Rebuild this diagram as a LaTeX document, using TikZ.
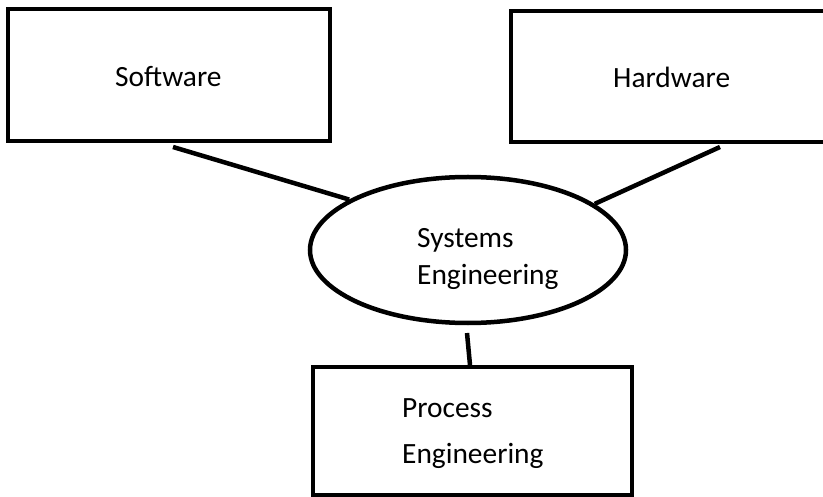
\documentclass[tikz,border=0pt]{standalone}
\usepackage{fontspec}
\setmainfont{Carlito}
\usetikzlibrary{shapes.geometric}
\begin{document}
\begin{tikzpicture}[x=1bp,y=-1bp,
  boxnode/.style={draw,line width=4.5bp,rectangle,inner sep=0pt},
  ellnode/.style={draw,line width=4.5bp,ellipse,inner sep=0pt},
  lbl/.style={anchor=base west,inner sep=0pt,font=\fontsize{29.5}{35}\selectfont},
  conn/.style={line width=4.5bp}]
\useasboundingbox (0,0) rectangle (823,497);
\clip (0,0) rectangle (823,497);
\node[boxnode,minimum width=322bp,minimum height=132bp] (sw) at (169,75) {};
\node[boxnode,minimum width=340bp,minimum height=131bp] (hw) at (681,76.5) {};
\node[ellnode,minimum width=316bp,minimum height=146bp] (se) at (468,250) {};
\node[boxnode,minimum width=319bp,minimum height=128bp] (pe) at (472.5,431) {};
\node[lbl] (swt) at (115,87) {Software};
\node[lbl] (hwt) at (613,88) {Hardware};
\node[lbl] (set1) at (417,248) {Systems};
\node[lbl] (set2) at (417,285) {Engineering};
\node[lbl] (pet1) at (402,417) {Process};
\node[lbl] (pet2) at (402,463) {Engineering};
\coordinate (c1) at (173,147);
\coordinate (c2) at (720,147);
\coordinate (c3) at (467,333);
\coordinate (c4) at (470,365);
\draw[conn] (c1) -- (se.157.5);
\draw[conn] (c2) -- (se.20);
\draw[conn] (c3) -- (c4);
\end{tikzpicture}
\end{document}
